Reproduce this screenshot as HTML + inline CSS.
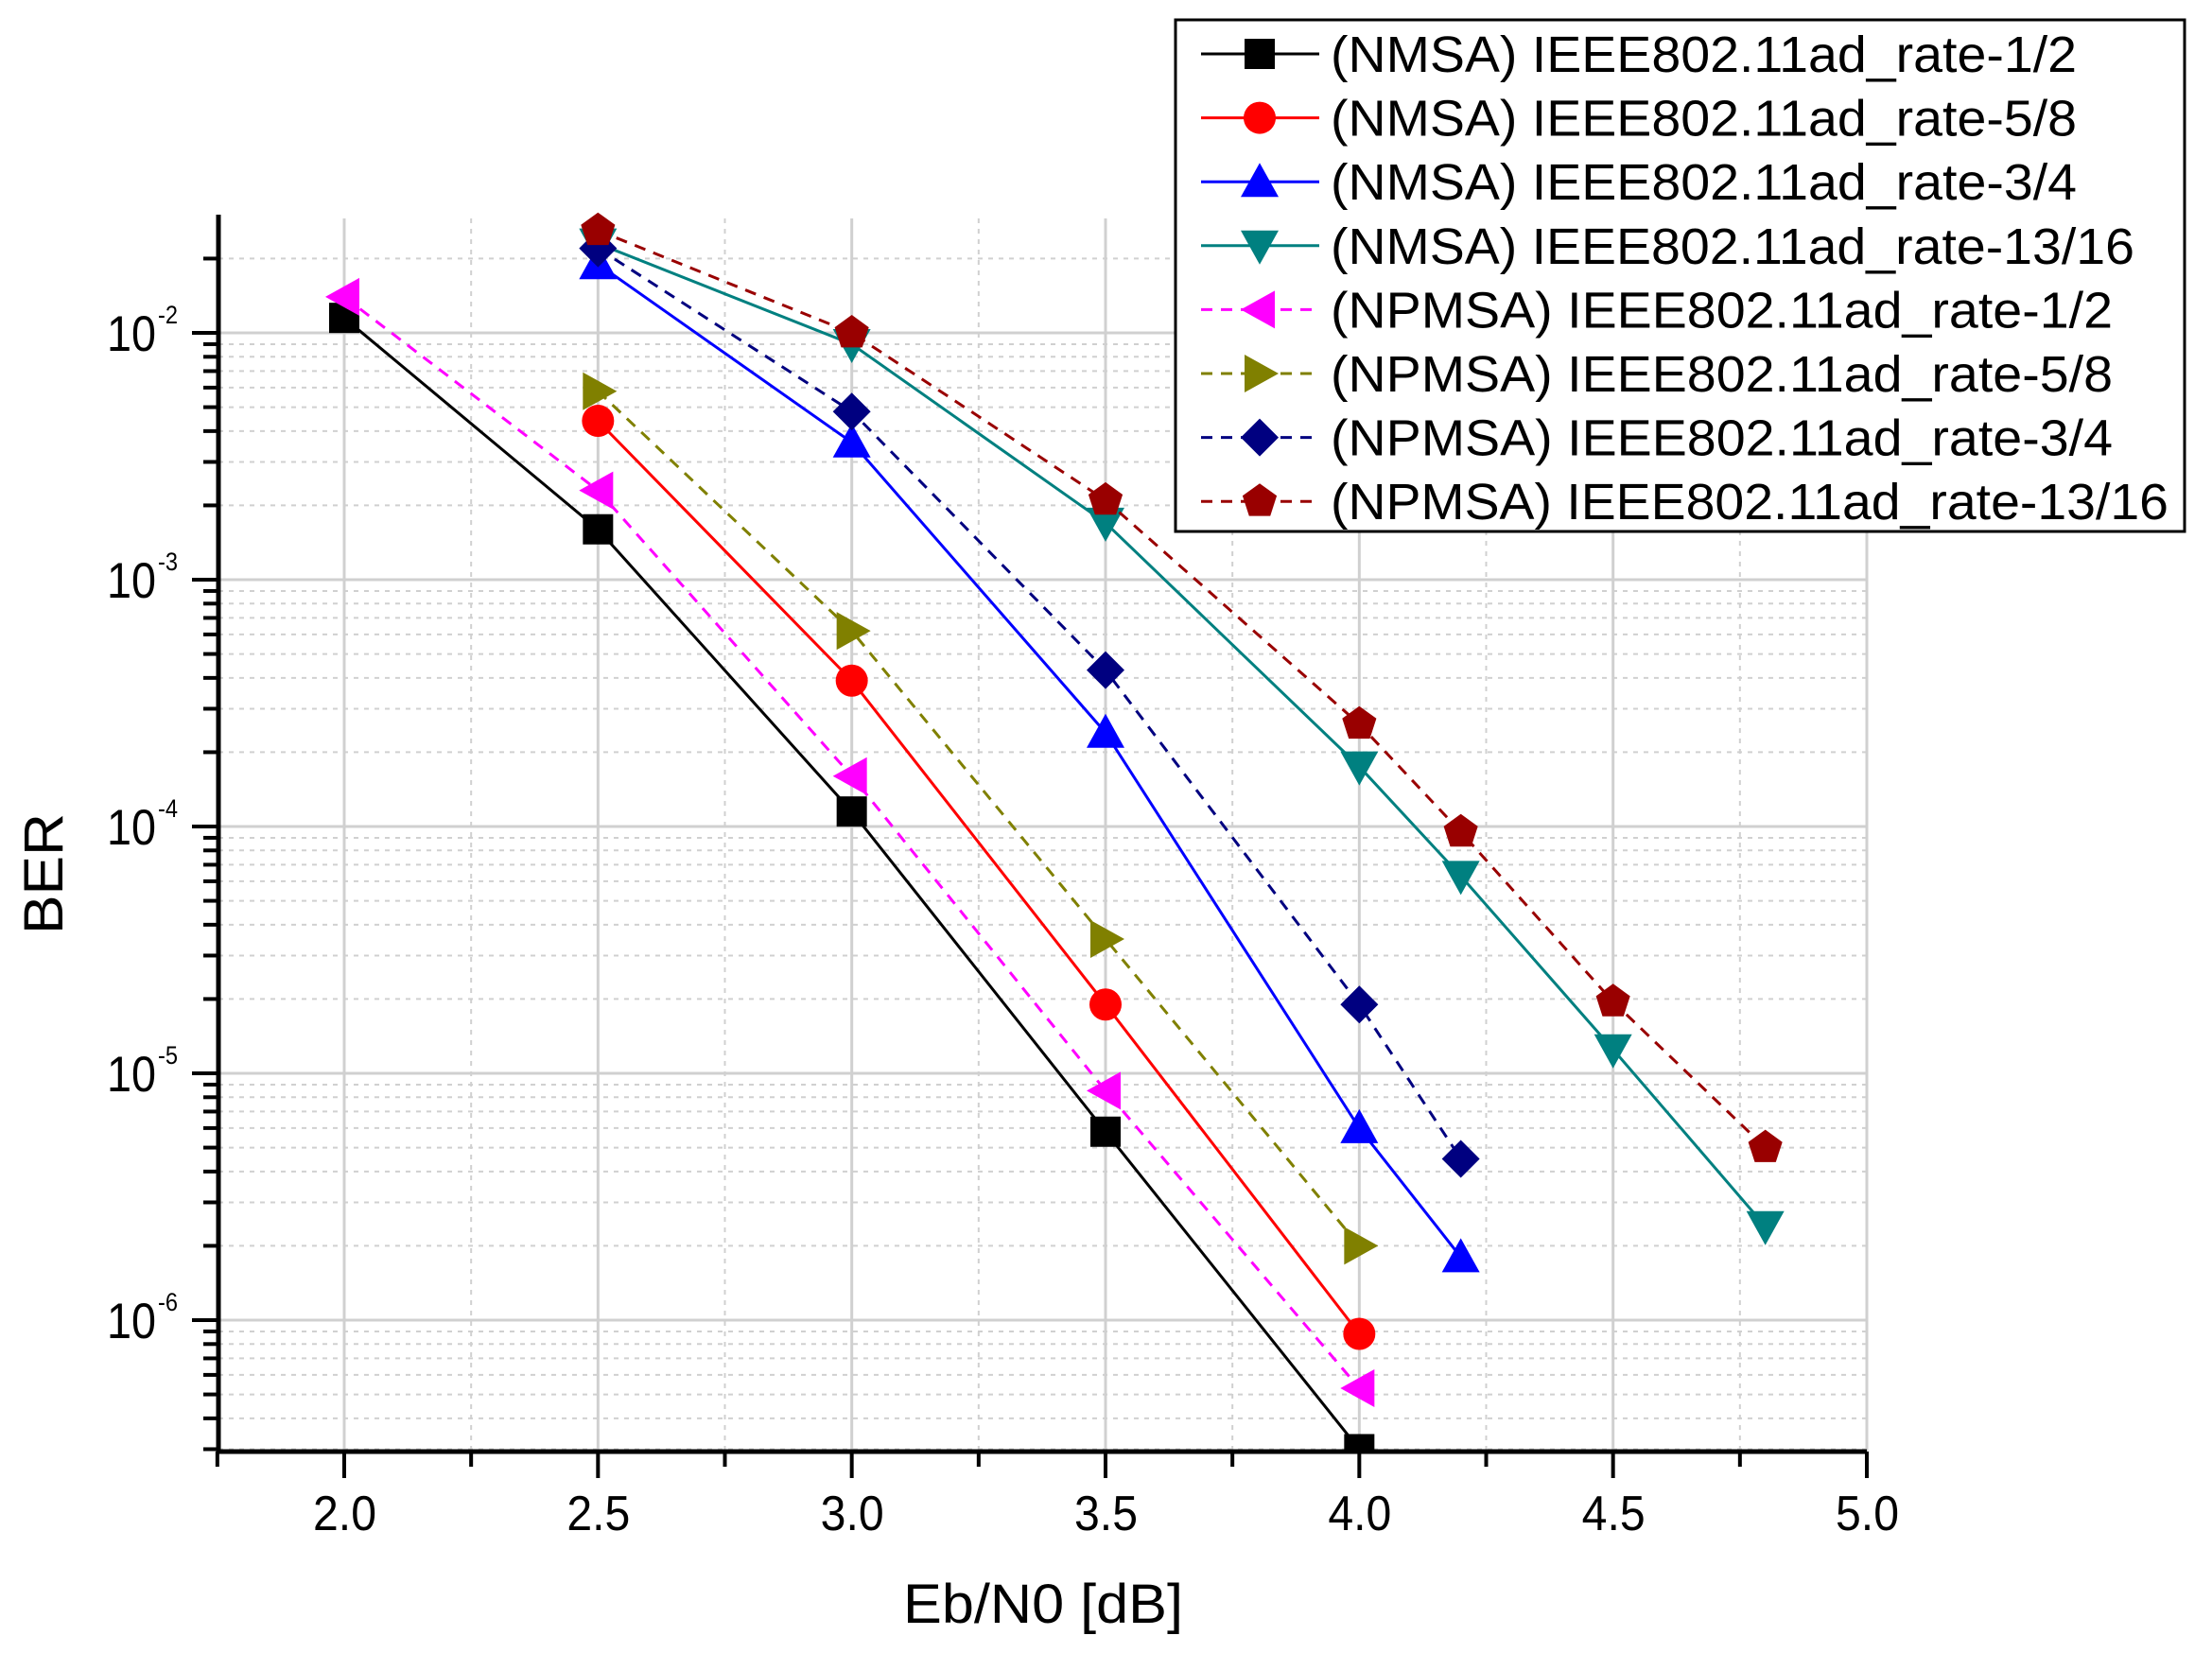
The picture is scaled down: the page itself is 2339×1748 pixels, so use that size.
<!DOCTYPE html>
<html><head><meta charset="utf-8"><style>
html,body{margin:0;padding:0;background:#fff;}
svg{display:block;font-family:"Liberation Sans",sans-serif;}
</style></head><body>
<svg id="chart" width="2339" height="1748" viewBox="0 0 2339 1748" xmlns="http://www.w3.org/2000/svg">
<g id="grid"></g>
<g id="series"></g>
<g id="axes"></g>
<g id="legend"></g>
</svg>
<script>
const xTicks = [2.0, 2.5, 3.0, 3.5, 4.0, 4.5, 5.0];
const xTickLabels = ["2.0","2.5","3.0","3.5","4.0","4.5","5.0"];
const yDecades = [-2, -3, -4, -5, -6];
const seriesNames = ["(NMSA) IEEE802.11ad_rate-1/2","(NMSA) IEEE802.11ad_rate-5/8","(NMSA) IEEE802.11ad_rate-3/4","(NMSA) IEEE802.11ad_rate-13/16","(NPMSA) IEEE802.11ad_rate-1/2","(NPMSA) IEEE802.11ad_rate-5/8","(NPMSA) IEEE802.11ad_rate-3/4","(NPMSA) IEEE802.11ad_rate-13/16"];
const x_nmsa12 = [2.0, 2.5, 3.0, 3.5, 4.0];
const y_nmsa12 = [1.15e-2, 1.6e-3, 1.15e-4, 5.8e-6, 3.0e-7];
const x_nmsa58 = [2.5, 3.0, 3.5, 4.0];
const y_nmsa58 = [4.4e-3, 3.9e-4, 1.9e-5, 8.8e-7];
const x_nmsa34 = [2.5, 3.0, 3.5, 4.0, 4.2];
const y_nmsa34 = [1.9e-2, 3.6e-3, 2.4e-4, 6.0e-6, 1.8e-6];
const x_nmsa1316 = [2.5, 3.0, 3.5, 4.0, 4.2, 4.5, 4.8];
const y_nmsa1316 = [2.3e-2, 9.0e-3, 1.7e-3, 1.75e-4, 6.3e-5, 1.25e-5, 2.4e-6];
const x_npmsa12 = [2.0, 2.5, 3.0, 3.5, 4.0];
const y_npmsa12 = [1.4e-2, 2.3e-3, 1.6e-4, 8.5e-6, 5.3e-7];
const x_npmsa58 = [2.5, 3.0, 3.5, 4.0];
const y_npmsa58 = [5.8e-3, 6.2e-4, 3.5e-5, 2.0e-6];
const x_npmsa34 = [2.5, 3.0, 3.5, 4.0, 4.2];
const y_npmsa34 = [2.2e-2, 4.8e-3, 4.3e-4, 1.9e-5, 4.5e-6];
const x_npmsa1316 = [2.5, 3.0, 3.5, 4.0, 4.2, 4.5, 4.8];
const y_npmsa1316 = [2.6e-2, 1.0e-2, 2.1e-3, 2.6e-4, 9.5e-5, 1.95e-5, 5.0e-6];

const NS = "http://www.w3.org/2000/svg";
const L = 231, R = 1974, T = 231, B = 1535;
const X2 = 364, XUNIT = (1974 - 364) / 3;
const YD2 = 352, DEC = 261;
function sx(v){ return X2 + (v - 2.0) * XUNIT; }
function sy(v){ return YD2 + (-2 - Math.log10(v)) * DEC; }
function mk(tag, attrs, parent){ const e = document.createElementNS(NS, tag); for (const k in attrs) e.setAttribute(k, attrs[k]); parent.appendChild(e); return e; }

const grid = document.getElementById('grid');
const axes = document.getElementById('axes');
const ser = document.getElementById('series');
const leg = document.getElementById('legend');

for (let v = 1.75; v <= 5.0001; v += 0.25) {
  const isMajor = Math.abs(v*2 - Math.round(v*2)) < 1e-6 && v >= 2;
  const g = mk('line', {x1:sx(v), x2:sx(v), y1:T, y2:B, stroke:'#d0d0d0', 'stroke-width': isMajor?3:2, 'stroke-dasharray': isMajor?'none':'5,6'}, grid);
  
  
}
for (let d = -7; d <= -1; d++) {
  for (let m = 1; m <= 9; m++) {
    const v = m * Math.pow(10, d);
    const y = sy(v);
    if (y < T - 0.5 || y > B + 0.5) continue;
    const g = mk('line', {x1:L, x2:R, y1:y, y2:y, stroke:'#d0d0d0', 'stroke-width': m===1?3:2, 'stroke-dasharray': m===1?'none':'5,6'}, grid);
    
    
    const t = mk('line', {x1:L - (m===1?28:16), x2:L, y1:y, y2:y, stroke:'#000', 'stroke-width':4}, axes);
    
    
  }
}
for (let v = 1.75; v <= 5.0001; v += 0.25) {
  const isMajor = Math.abs(v*2 - Math.round(v*2)) < 1e-6;
  const t = mk('line', {x1:sx(v), x2:sx(v), y1:B, y2:B + (isMajor?28:16), stroke:'#000', 'stroke-width':4}, axes);
  
  
}
const ax1 = mk('line', {x1:L, x2:L, y1:T-4, y2:B+2, stroke:'#000', 'stroke-width':5}, axes);


const ax2 = mk('line', {x1:L-2, x2:R, y1:B, y2:B, stroke:'#000', 'stroke-width':5}, axes);



xTicks.forEach((v, i) => {
  const t = mk('text', {x:sx(v)-33, y:1618, 'font-size':52, fill:'#000', textLength:67, lengthAdjust:'spacingAndGlyphs'}, axes);
  t.textContent = xTickLabels[i];
  
  
});
yDecades.forEach(d => {
  const y = sy(Math.pow(10, d));
  const t = mk('text', {x:113, y:y+19, 'font-size':53, fill:'#000', textLength:52, lengthAdjust:'spacingAndGlyphs'}, axes);
  t.textContent = '10';
  
  
  const s = mk('text', {x:167, y:y-10, 'font-size':27, fill:'#000', textLength:21, lengthAdjust:'spacingAndGlyphs'}, axes);
  s.textContent = String(d);
  
  
});
const xt = mk('text', {x:955, y:1716, 'font-size':58, fill:'#000', textLength:296, lengthAdjust:'spacingAndGlyphs'}, axes);
xt.textContent = 'Eb/N0 [dB]';


const yt = mk('text', {x:-64, y:0, 'font-size':58, fill:'#000', textLength:128, lengthAdjust:'spacingAndGlyphs', transform:'translate(66,924) rotate(-90)'}, axes);
yt.textContent = 'BER';



function marker(shape, cx, cy, color, parent){
  const s = 20;
  let e;
  if (shape === 'square') e = mk('rect', {x:cx-16, y:cy-16, width:32, height:32, fill:color}, parent);
  else if (shape === 'circle') e = mk('circle', {cx:cx, cy:cy, r:17, fill:color}, parent);
  else if (shape === 'up') e = mk('polygon', {points:`${cx},${cy-s} ${cx+s},${cy+s*0.8} ${cx-s},${cy+s*0.8}`, fill:color}, parent);
  else if (shape === 'down') e = mk('polygon', {points:`${cx},${cy+s} ${cx+s},${cy-s*0.8} ${cx-s},${cy-s*0.8}`, fill:color}, parent);
  else if (shape === 'left') e = mk('polygon', {points:`${cx-s},${cy} ${cx+s*0.8},${cy-s} ${cx+s*0.8},${cy+s}`, fill:color}, parent);
  else if (shape === 'right') e = mk('polygon', {points:`${cx+s},${cy} ${cx-s*0.8},${cy-s} ${cx-s*0.8},${cy+s}`, fill:color}, parent);
  else if (shape === 'diamond') e = mk('polygon', {points:`${cx},${cy-s} ${cx+s},${cy} ${cx},${cy+s} ${cx-s},${cy}`, fill:color}, parent);
  else {
    const pts = [];
    for (let k = 0; k < 5; k++) { const a = -Math.PI/2 + k*2*Math.PI/5; pts.push((cx+19*Math.cos(a)).toFixed(1)+','+(cy+19*Math.sin(a)).toFixed(1)); }
    e = mk('polygon', {points:pts.join(' '), fill:color}, parent);
  }
  return e;
}

const defs = [
  [x_nmsa12, y_nmsa12, '#000000', 'square', false, 'nmsa-rate-1-2'],
  [x_nmsa58, y_nmsa58, '#ff0000', 'circle', false, 'nmsa-rate-5-8'],
  [x_nmsa34, y_nmsa34, '#0000ff', 'up', false, 'nmsa-rate-3-4'],
  [x_nmsa1316, y_nmsa1316, '#008080', 'down', false, 'nmsa-rate-13-16'],
  [x_npmsa12, y_npmsa12, '#ff00ff', 'left', true, 'npmsa-rate-1-2'],
  [x_npmsa58, y_npmsa58, '#808000', 'right', true, 'npmsa-rate-5-8'],
  [x_npmsa34, y_npmsa34, '#000080', 'diamond', true, 'npmsa-rate-3-4'],
  [x_npmsa1316, y_npmsa1316, '#990000', 'pentagon', true, 'npmsa-rate-13-16'],
];
const clip = mk('clipPath', {id:'plotclip'}, document.getElementById('chart'));
mk('rect', {x:L, y:T-40, width:R-L+40, height:B-T+41}, clip);
defs.forEach((d, i) => {
  const g = mk('g', {'clip-path':'url(#plotclip)'}, ser);
  
  
  const pts = d[0].map((x, j) => sx(x).toFixed(1) + ',' + sy(d[1][j]).toFixed(1)).join(' ');
  const pl = mk('polyline', {points:pts, fill:'none', stroke:d[2], 'stroke-width':3, 'stroke-dasharray': d[4] ? '12,9' : 'none'}, g);
  
  
  d[0].forEach((x, j) => {
    const m = marker(d[3], sx(x), sy(d[1][j]), d[2], g);
    
    
  });
});

const lb = mk('rect', {x:1243, y:21, width:1067, height:541, fill:'#fff', stroke:'#000', 'stroke-width':3}, leg);


const legLens = [789, 789, 789, 850, 827, 827, 827, 886];
defs.forEach((d, i) => {
  const y = 57 + i * 67.6;
  const g = mk('g', {}, leg);
  
  
  mk('line', {x1:1270, x2:1395, y1:y, y2:y, stroke:d[2], 'stroke-width':3, 'stroke-dasharray': d[4] ? '12,9' : 'none'}, g);
  marker(d[3], 1332, y, d[2], g);
  const t = mk('text', {x:1407, y:y+19, 'font-size':54, fill:'#000', textLength: legLens[i], lengthAdjust:'spacingAndGlyphs'}, g);
  t.textContent = seriesNames[i];
  
  
});
</script>
</body></html>
